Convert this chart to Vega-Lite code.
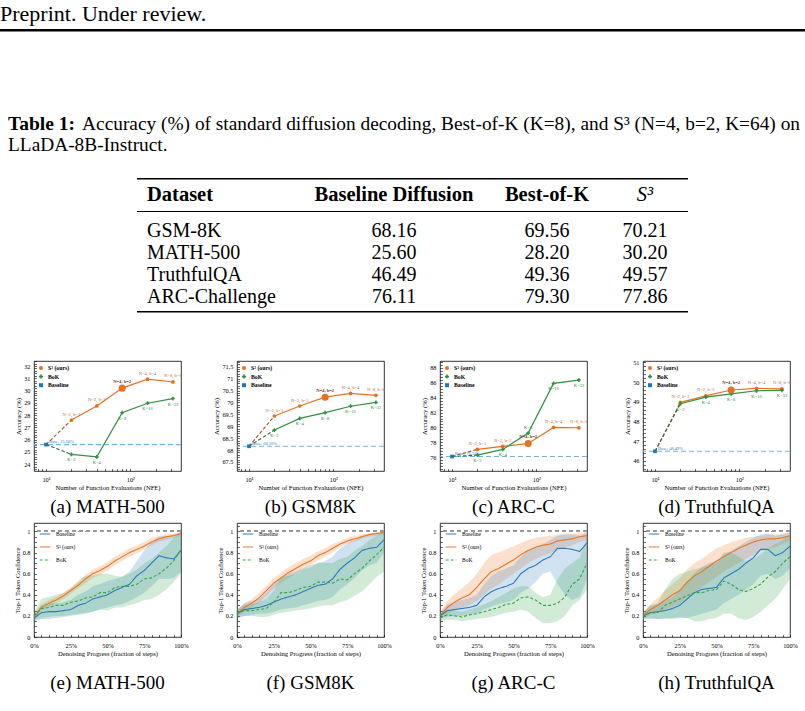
{
"$schema":"https://vega.github.io/schema/vega-lite/v6.json",
"padding":0,
"background":"white",
"spacing":0,"bounds":"full",
"resolve":{"scale":{"color":"independent","shape":"independent","strokeDash":"independent"},"legend":{"color":"independent","shape":"independent","strokeDash":"independent"}},
"datasets":{
"tbl":[{"row":1,"ds":"GSM-8K","base":68.16,"bok":69.56,"s3":70.21},{"row":2,"ds":"MATH-500","base":25.6,"bok":28.2,"s3":30.2},{"row":3,"ds":"TruthfulQA","base":46.49,"bok":49.36,"s3":49.57},{"row":4,"ds":"ARC-Challenge","base":76.11,"bok":79.3,"s3":77.86}],
"acc":[
{"c":"a","series":"Baseline","seg":"base","nfe":10,"acc":25.6,"lab":"Base: 25.60%"},
{"c":"a","series":"S³ (ours)","seg":"dash","nfe":10,"acc":25.6},{"c":"a","series":"S³ (ours)","seg":"dash","nfe":20,"acc":27.6},
{"c":"a","series":"BoK","seg":"dash","nfe":10,"acc":25.6},{"c":"a","series":"BoK","seg":"dash","nfe":20,"acc":24.8},
{"c":"a","series":"S³ (ours)","seg":"solid","nfe":20,"acc":27.6,"lab":"N=2, b=1"},{"c":"a","series":"S³ (ours)","seg":"solid","nfe":40,"acc":28.75,"lab":"N=2, b=2"},{"c":"a","series":"S³ (ours)","seg":"solid","nfe":80,"acc":30.2,"lab":"N=4, b=2"},{"c":"a","series":"S³ (ours)","seg":"solid","nfe":160,"acc":30.93,"lab":"N=4, b=4"},{"c":"a","series":"S³ (ours)","seg":"solid","nfe":320,"acc":30.7,"lab":"N=8, b=8"},
{"c":"a","series":"BoK","seg":"solid","nfe":20,"acc":24.8,"lab":"K=2"},{"c":"a","series":"BoK","seg":"solid","nfe":40,"acc":24.6,"lab":"K=4"},{"c":"a","series":"BoK","seg":"solid","nfe":80,"acc":28.2,"lab":"K=8"},{"c":"a","series":"BoK","seg":"solid","nfe":160,"acc":28.97,"lab":"K=16"},{"c":"a","series":"BoK","seg":"solid","nfe":320,"acc":29.35,"lab":"K=32"},
{"c":"b","series":"Baseline","seg":"base","nfe":10,"acc":68.16,"lab":"Base: 68.16%"},
{"c":"b","series":"S³ (ours)","seg":"dash","nfe":10,"acc":68.16},{"c":"b","series":"S³ (ours)","seg":"dash","nfe":20,"acc":69.43},
{"c":"b","series":"BoK","seg":"dash","nfe":10,"acc":68.16},{"c":"b","series":"BoK","seg":"dash","nfe":20,"acc":68.84},
{"c":"b","series":"S³ (ours)","seg":"solid","nfe":20,"acc":69.43,"lab":"N=2, b=1"},{"c":"b","series":"S³ (ours)","seg":"solid","nfe":40,"acc":69.85,"lab":"N=2, b=2"},{"c":"b","series":"S³ (ours)","seg":"solid","nfe":80,"acc":70.22,"lab":"N=4, b=2"},{"c":"b","series":"S³ (ours)","seg":"solid","nfe":160,"acc":70.38,"lab":"N=4, b=4"},{"c":"b","series":"S³ (ours)","seg":"solid","nfe":320,"acc":70.3,"lab":"N=8, b=8"},
{"c":"b","series":"BoK","seg":"solid","nfe":20,"acc":68.84,"lab":"K=2"},{"c":"b","series":"BoK","seg":"solid","nfe":40,"acc":69.33,"lab":"K=4"},{"c":"b","series":"BoK","seg":"solid","nfe":80,"acc":69.57,"lab":"K=8"},{"c":"b","series":"BoK","seg":"solid","nfe":160,"acc":69.84,"lab":"K=16"},{"c":"b","series":"BoK","seg":"solid","nfe":320,"acc":70.0,"lab":"K=32"},
{"c":"c","series":"Baseline","seg":"base","nfe":10,"acc":76.11,"lab":"Base: 76.11%"},
{"c":"c","series":"S³ (ours)","seg":"dash","nfe":10,"acc":76.11},{"c":"c","series":"S³ (ours)","seg":"dash","nfe":20,"acc":77.06},
{"c":"c","series":"BoK","seg":"dash","nfe":10,"acc":76.11},{"c":"c","series":"BoK","seg":"dash","nfe":20,"acc":76.3},
{"c":"c","series":"S³ (ours)","seg":"solid","nfe":20,"acc":77.06,"lab":"N=2, b=1"},{"c":"c","series":"S³ (ours)","seg":"solid","nfe":40,"acc":77.46,"lab":"N=2, b=2"},{"c":"c","series":"S³ (ours)","seg":"solid","nfe":80,"acc":77.86,"lab":"N=4, b=2"},{"c":"c","series":"S³ (ours)","seg":"solid","nfe":160,"acc":80.0,"lab":"N=4, b=4"},{"c":"c","series":"S³ (ours)","seg":"solid","nfe":320,"acc":79.96,"lab":"N=8, b=8"},
{"c":"c","series":"BoK","seg":"solid","nfe":20,"acc":76.3,"lab":"K=2"},{"c":"c","series":"BoK","seg":"solid","nfe":40,"acc":77.06,"lab":"K=4"},{"c":"c","series":"BoK","seg":"solid","nfe":80,"acc":79.25,"lab":"K=8"},{"c":"c","series":"BoK","seg":"solid","nfe":160,"acc":85.9,"lab":"K=16"},{"c":"c","series":"BoK","seg":"solid","nfe":320,"acc":86.35,"lab":"K=32"},
{"c":"d","series":"Baseline","seg":"base","nfe":10,"acc":46.49,"lab":"Base: 46.49%"},
{"c":"d","series":"S³ (ours)","seg":"dash","nfe":10,"acc":46.49},{"c":"d","series":"S³ (ours)","seg":"dash","nfe":20,"acc":48.97},
{"c":"d","series":"BoK","seg":"dash","nfe":10,"acc":46.49},{"c":"d","series":"BoK","seg":"dash","nfe":20,"acc":48.9},
{"c":"d","series":"S³ (ours)","seg":"solid","nfe":20,"acc":48.97,"lab":"N=2, b=1"},{"c":"d","series":"S³ (ours)","seg":"solid","nfe":40,"acc":49.3,"lab":"N=2, b=2"},{"c":"d","series":"S³ (ours)","seg":"solid","nfe":80,"acc":49.6,"lab":"N=4, b=2"},{"c":"d","series":"S³ (ours)","seg":"solid","nfe":160,"acc":49.68,"lab":"N=4, b=4"},{"c":"d","series":"S³ (ours)","seg":"solid","nfe":320,"acc":49.66,"lab":"N=8, b=8"},
{"c":"d","series":"BoK","seg":"solid","nfe":20,"acc":48.9,"lab":"K=2"},{"c":"d","series":"BoK","seg":"solid","nfe":40,"acc":49.24,"lab":"K=4"},{"c":"d","series":"BoK","seg":"solid","nfe":80,"acc":49.4,"lab":"K=8"},{"c":"d","series":"BoK","seg":"solid","nfe":160,"acc":49.56,"lab":"K=16"},{"c":"d","series":"BoK","seg":"solid","nfe":320,"acc":49.58,"lab":"K=32"}
],
"conf":[
{"c":"e","s":"S³ (ours)","p":0,"m":0.18,"lo":0.15,"hi":0.21},{"c":"e","s":"S³ (ours)","p":0.05,"m":0.28,"lo":0.25,"hi":0.31},{"c":"e","s":"S³ (ours)","p":0.1,"m":0.32,"lo":0.29,"hi":0.35},{"c":"e","s":"S³ (ours)","p":0.15,"m":0.35,"lo":0.32,"hi":0.38},{"c":"e","s":"S³ (ours)","p":0.2,"m":0.39,"lo":0.36,"hi":0.42},{"c":"e","s":"S³ (ours)","p":0.25,"m":0.44,"lo":0.41,"hi":0.47},{"c":"e","s":"S³ (ours)","p":0.3,"m":0.49,"lo":0.46,"hi":0.53},{"c":"e","s":"S³ (ours)","p":0.35,"m":0.55,"lo":0.51,"hi":0.59},{"c":"e","s":"S³ (ours)","p":0.4,"m":0.6,"lo":0.56,"hi":0.64},{"c":"e","s":"S³ (ours)","p":0.45,"m":0.63,"lo":0.59,"hi":0.67},{"c":"e","s":"S³ (ours)","p":0.5,"m":0.67,"lo":0.63,"hi":0.71},{"c":"e","s":"S³ (ours)","p":0.55,"m":0.72,"lo":0.68,"hi":0.76},{"c":"e","s":"S³ (ours)","p":0.6,"m":0.76,"lo":0.72,"hi":0.8},{"c":"e","s":"S³ (ours)","p":0.65,"m":0.8,"lo":0.76,"hi":0.84},{"c":"e","s":"S³ (ours)","p":0.7,"m":0.83,"lo":0.79,"hi":0.87},{"c":"e","s":"S³ (ours)","p":0.75,"m":0.86,"lo":0.83,"hi":0.9},{"c":"e","s":"S³ (ours)","p":0.8,"m":0.9,"lo":0.87,"hi":0.94},{"c":"e","s":"S³ (ours)","p":0.85,"m":0.93,"lo":0.9,"hi":0.96},{"c":"e","s":"S³ (ours)","p":0.9,"m":0.95,"lo":0.92,"hi":0.97},{"c":"e","s":"S³ (ours)","p":0.95,"m":0.96,"lo":0.94,"hi":0.98},{"c":"e","s":"S³ (ours)","p":1,"m":0.98,"lo":0.96,"hi":0.99},
{"c":"e","s":"Baseline","p":0,"m":0.18,"lo":0.15,"hi":0.22},{"c":"e","s":"Baseline","p":0.05,"m":0.23,"lo":0.17,"hi":0.3},{"c":"e","s":"Baseline","p":0.1,"m":0.24,"lo":0.17,"hi":0.32},{"c":"e","s":"Baseline","p":0.15,"m":0.24,"lo":0.18,"hi":0.32},{"c":"e","s":"Baseline","p":0.2,"m":0.25,"lo":0.19,"hi":0.33},{"c":"e","s":"Baseline","p":0.25,"m":0.26,"lo":0.2,"hi":0.35},{"c":"e","s":"Baseline","p":0.3,"m":0.3,"lo":0.21,"hi":0.4},{"c":"e","s":"Baseline","p":0.35,"m":0.32,"lo":0.22,"hi":0.43},{"c":"e","s":"Baseline","p":0.4,"m":0.36,"lo":0.24,"hi":0.48},{"c":"e","s":"Baseline","p":0.45,"m":0.38,"lo":0.26,"hi":0.5},{"c":"e","s":"Baseline","p":0.5,"m":0.4,"lo":0.28,"hi":0.53},{"c":"e","s":"Baseline","p":0.55,"m":0.44,"lo":0.3,"hi":0.55},{"c":"e","s":"Baseline","p":0.6,"m":0.47,"lo":0.31,"hi":0.57},{"c":"e","s":"Baseline","p":0.65,"m":0.5,"lo":0.34,"hi":0.62},{"c":"e","s":"Baseline","p":0.7,"m":0.58,"lo":0.38,"hi":0.72},{"c":"e","s":"Baseline","p":0.75,"m":0.63,"lo":0.42,"hi":0.82},{"c":"e","s":"Baseline","p":0.8,"m":0.7,"lo":0.48,"hi":0.9},{"c":"e","s":"Baseline","p":0.85,"m":0.77,"lo":0.55,"hi":0.95},{"c":"e","s":"Baseline","p":0.9,"m":0.75,"lo":0.55,"hi":0.96},{"c":"e","s":"Baseline","p":0.95,"m":0.74,"lo":0.56,"hi":0.96},{"c":"e","s":"Baseline","p":1,"m":0.82,"lo":0.62,"hi":1.0},
{"c":"e","s":"BoK","p":0,"m":0.2,"lo":0.16,"hi":0.24},{"c":"e","s":"BoK","p":0.05,"m":0.27,"lo":0.18,"hi":0.36},{"c":"e","s":"BoK","p":0.1,"m":0.28,"lo":0.19,"hi":0.38},{"c":"e","s":"BoK","p":0.15,"m":0.3,"lo":0.2,"hi":0.4},{"c":"e","s":"BoK","p":0.2,"m":0.3,"lo":0.2,"hi":0.42},{"c":"e","s":"BoK","p":0.25,"m":0.33,"lo":0.21,"hi":0.46},{"c":"e","s":"BoK","p":0.3,"m":0.34,"lo":0.22,"hi":0.52},{"c":"e","s":"BoK","p":0.35,"m":0.37,"lo":0.23,"hi":0.58},{"c":"e","s":"BoK","p":0.4,"m":0.38,"lo":0.24,"hi":0.58},{"c":"e","s":"BoK","p":0.45,"m":0.42,"lo":0.26,"hi":0.6},{"c":"e","s":"BoK","p":0.5,"m":0.42,"lo":0.25,"hi":0.6},{"c":"e","s":"BoK","p":0.55,"m":0.47,"lo":0.28,"hi":0.58},{"c":"e","s":"BoK","p":0.6,"m":0.48,"lo":0.28,"hi":0.57},{"c":"e","s":"BoK","p":0.65,"m":0.48,"lo":0.3,"hi":0.6},{"c":"e","s":"BoK","p":0.7,"m":0.5,"lo":0.32,"hi":0.64},{"c":"e","s":"BoK","p":0.75,"m":0.55,"lo":0.35,"hi":0.7},{"c":"e","s":"BoK","p":0.8,"m":0.56,"lo":0.36,"hi":0.74},{"c":"e","s":"BoK","p":0.85,"m":0.6,"lo":0.4,"hi":0.8},{"c":"e","s":"BoK","p":0.9,"m":0.65,"lo":0.45,"hi":0.86},{"c":"e","s":"BoK","p":0.95,"m":0.72,"lo":0.52,"hi":0.94},{"c":"e","s":"BoK","p":1,"m":0.83,"lo":0.6,"hi":1.0},
{"c":"f","s":"S³ (ours)","p":0,"m":0.22,"lo":0.19,"hi":0.25},{"c":"f","s":"S³ (ours)","p":0.05,"m":0.28,"lo":0.24,"hi":0.32},{"c":"f","s":"S³ (ours)","p":0.1,"m":0.32,"lo":0.28,"hi":0.36},{"c":"f","s":"S³ (ours)","p":0.15,"m":0.37,"lo":0.32,"hi":0.42},{"c":"f","s":"S³ (ours)","p":0.2,"m":0.44,"lo":0.39,"hi":0.49},{"c":"f","s":"S³ (ours)","p":0.25,"m":0.51,"lo":0.46,"hi":0.56},{"c":"f","s":"S³ (ours)","p":0.3,"m":0.56,"lo":0.51,"hi":0.61},{"c":"f","s":"S³ (ours)","p":0.35,"m":0.61,"lo":0.56,"hi":0.66},{"c":"f","s":"S³ (ours)","p":0.4,"m":0.65,"lo":0.6,"hi":0.7},{"c":"f","s":"S³ (ours)","p":0.45,"m":0.69,"lo":0.64,"hi":0.74},{"c":"f","s":"S³ (ours)","p":0.5,"m":0.72,"lo":0.68,"hi":0.77},{"c":"f","s":"S³ (ours)","p":0.55,"m":0.77,"lo":0.73,"hi":0.81},{"c":"f","s":"S³ (ours)","p":0.6,"m":0.8,"lo":0.76,"hi":0.84},{"c":"f","s":"S³ (ours)","p":0.65,"m":0.84,"lo":0.8,"hi":0.88},{"c":"f","s":"S³ (ours)","p":0.7,"m":0.88,"lo":0.85,"hi":0.91},{"c":"f","s":"S³ (ours)","p":0.75,"m":0.91,"lo":0.88,"hi":0.94},{"c":"f","s":"S³ (ours)","p":0.8,"m":0.93,"lo":0.9,"hi":0.96},{"c":"f","s":"S³ (ours)","p":0.85,"m":0.95,"lo":0.93,"hi":0.97},{"c":"f","s":"S³ (ours)","p":0.9,"m":0.97,"lo":0.95,"hi":0.98},{"c":"f","s":"S³ (ours)","p":0.95,"m":0.98,"lo":0.96,"hi":0.99},{"c":"f","s":"S³ (ours)","p":1,"m":0.99,"lo":0.97,"hi":1.0},
{"c":"f","s":"Baseline","p":0,"m":0.22,"lo":0.18,"hi":0.26},{"c":"f","s":"Baseline","p":0.05,"m":0.26,"lo":0.2,"hi":0.32},{"c":"f","s":"Baseline","p":0.1,"m":0.27,"lo":0.21,"hi":0.34},{"c":"f","s":"Baseline","p":0.15,"m":0.28,"lo":0.22,"hi":0.36},{"c":"f","s":"Baseline","p":0.2,"m":0.3,"lo":0.22,"hi":0.42},{"c":"f","s":"Baseline","p":0.25,"m":0.33,"lo":0.24,"hi":0.5},{"c":"f","s":"Baseline","p":0.3,"m":0.36,"lo":0.26,"hi":0.56},{"c":"f","s":"Baseline","p":0.35,"m":0.38,"lo":0.27,"hi":0.6},{"c":"f","s":"Baseline","p":0.4,"m":0.4,"lo":0.28,"hi":0.62},{"c":"f","s":"Baseline","p":0.45,"m":0.43,"lo":0.3,"hi":0.65},{"c":"f","s":"Baseline","p":0.5,"m":0.46,"lo":0.32,"hi":0.68},{"c":"f","s":"Baseline","p":0.55,"m":0.49,"lo":0.34,"hi":0.7},{"c":"f","s":"Baseline","p":0.6,"m":0.5,"lo":0.35,"hi":0.72},{"c":"f","s":"Baseline","p":0.65,"m":0.55,"lo":0.38,"hi":0.76},{"c":"f","s":"Baseline","p":0.7,"m":0.64,"lo":0.45,"hi":0.84},{"c":"f","s":"Baseline","p":0.75,"m":0.7,"lo":0.5,"hi":0.88},{"c":"f","s":"Baseline","p":0.8,"m":0.75,"lo":0.56,"hi":0.92},{"c":"f","s":"Baseline","p":0.85,"m":0.82,"lo":0.63,"hi":0.96},{"c":"f","s":"Baseline","p":0.9,"m":0.84,"lo":0.68,"hi":0.98},{"c":"f","s":"Baseline","p":0.95,"m":0.85,"lo":0.7,"hi":0.99},{"c":"f","s":"Baseline","p":1,"m":0.92,"lo":0.8,"hi":1.0},
{"c":"f","s":"BoK","p":0,"m":0.22,"lo":0.18,"hi":0.26},{"c":"f","s":"BoK","p":0.05,"m":0.25,"lo":0.2,"hi":0.3},{"c":"f","s":"BoK","p":0.1,"m":0.25,"lo":0.2,"hi":0.31},{"c":"f","s":"BoK","p":0.15,"m":0.26,"lo":0.19,"hi":0.33},{"c":"f","s":"BoK","p":0.2,"m":0.27,"lo":0.19,"hi":0.36},{"c":"f","s":"BoK","p":0.25,"m":0.33,"lo":0.21,"hi":0.44},{"c":"f","s":"BoK","p":0.3,"m":0.42,"lo":0.23,"hi":0.56},{"c":"f","s":"BoK","p":0.35,"m":0.42,"lo":0.24,"hi":0.58},{"c":"f","s":"BoK","p":0.4,"m":0.44,"lo":0.25,"hi":0.6},{"c":"f","s":"BoK","p":0.45,"m":0.47,"lo":0.26,"hi":0.64},{"c":"f","s":"BoK","p":0.5,"m":0.48,"lo":0.27,"hi":0.66},{"c":"f","s":"BoK","p":0.55,"m":0.52,"lo":0.29,"hi":0.7},{"c":"f","s":"BoK","p":0.6,"m":0.52,"lo":0.3,"hi":0.7},{"c":"f","s":"BoK","p":0.65,"m":0.51,"lo":0.3,"hi":0.7},{"c":"f","s":"BoK","p":0.7,"m":0.55,"lo":0.33,"hi":0.74},{"c":"f","s":"BoK","p":0.75,"m":0.54,"lo":0.35,"hi":0.76},{"c":"f","s":"BoK","p":0.8,"m":0.6,"lo":0.39,"hi":0.82},{"c":"f","s":"BoK","p":0.85,"m":0.65,"lo":0.43,"hi":0.86},{"c":"f","s":"BoK","p":0.9,"m":0.72,"lo":0.5,"hi":0.92},{"c":"f","s":"BoK","p":0.95,"m":0.78,"lo":0.57,"hi":0.96},{"c":"f","s":"BoK","p":1,"m":0.85,"lo":0.62,"hi":1.0},
{"c":"g","s":"S³ (ours)","p":0,"m":0.2,"lo":0.17,"hi":0.23},{"c":"g","s":"S³ (ours)","p":0.05,"m":0.28,"lo":0.22,"hi":0.34},{"c":"g","s":"S³ (ours)","p":0.1,"m":0.33,"lo":0.25,"hi":0.41},{"c":"g","s":"S³ (ours)","p":0.15,"m":0.37,"lo":0.28,"hi":0.46},{"c":"g","s":"S³ (ours)","p":0.2,"m":0.4,"lo":0.3,"hi":0.52},{"c":"g","s":"S³ (ours)","p":0.25,"m":0.47,"lo":0.34,"hi":0.6},{"c":"g","s":"S³ (ours)","p":0.3,"m":0.55,"lo":0.4,"hi":0.7},{"c":"g","s":"S³ (ours)","p":0.35,"m":0.62,"lo":0.46,"hi":0.78},{"c":"g","s":"S³ (ours)","p":0.4,"m":0.65,"lo":0.5,"hi":0.8},{"c":"g","s":"S³ (ours)","p":0.45,"m":0.69,"lo":0.55,"hi":0.83},{"c":"g","s":"S³ (ours)","p":0.5,"m":0.73,"lo":0.6,"hi":0.86},{"c":"g","s":"S³ (ours)","p":0.55,"m":0.78,"lo":0.65,"hi":0.89},{"c":"g","s":"S³ (ours)","p":0.6,"m":0.82,"lo":0.7,"hi":0.92},{"c":"g","s":"S³ (ours)","p":0.65,"m":0.85,"lo":0.74,"hi":0.94},{"c":"g","s":"S³ (ours)","p":0.7,"m":0.87,"lo":0.77,"hi":0.95},{"c":"g","s":"S³ (ours)","p":0.75,"m":0.88,"lo":0.79,"hi":0.96},{"c":"g","s":"S³ (ours)","p":0.8,"m":0.91,"lo":0.83,"hi":0.97},{"c":"g","s":"S³ (ours)","p":0.85,"m":0.92,"lo":0.85,"hi":0.98},{"c":"g","s":"S³ (ours)","p":0.9,"m":0.93,"lo":0.87,"hi":0.98},{"c":"g","s":"S³ (ours)","p":0.95,"m":0.95,"lo":0.9,"hi":0.99},{"c":"g","s":"S³ (ours)","p":1,"m":0.96,"lo":0.92,"hi":0.99},
{"c":"g","s":"Baseline","p":0,"m":0.2,"lo":0.17,"hi":0.23},{"c":"g","s":"Baseline","p":0.05,"m":0.25,"lo":0.19,"hi":0.31},{"c":"g","s":"Baseline","p":0.1,"m":0.26,"lo":0.2,"hi":0.33},{"c":"g","s":"Baseline","p":0.15,"m":0.27,"lo":0.2,"hi":0.35},{"c":"g","s":"Baseline","p":0.2,"m":0.28,"lo":0.21,"hi":0.37},{"c":"g","s":"Baseline","p":0.25,"m":0.3,"lo":0.22,"hi":0.4},{"c":"g","s":"Baseline","p":0.3,"m":0.38,"lo":0.26,"hi":0.5},{"c":"g","s":"Baseline","p":0.35,"m":0.43,"lo":0.29,"hi":0.58},{"c":"g","s":"Baseline","p":0.4,"m":0.46,"lo":0.31,"hi":0.62},{"c":"g","s":"Baseline","p":0.45,"m":0.48,"lo":0.33,"hi":0.65},{"c":"g","s":"Baseline","p":0.5,"m":0.51,"lo":0.35,"hi":0.68},{"c":"g","s":"Baseline","p":0.55,"m":0.6,"lo":0.42,"hi":0.76},{"c":"g","s":"Baseline","p":0.6,"m":0.65,"lo":0.46,"hi":0.82},{"c":"g","s":"Baseline","p":0.65,"m":0.68,"lo":0.52,"hi":0.85},{"c":"g","s":"Baseline","p":0.7,"m":0.73,"lo":0.6,"hi":0.88},{"c":"g","s":"Baseline","p":0.75,"m":0.76,"lo":0.62,"hi":0.92},{"c":"g","s":"Baseline","p":0.8,"m":0.84,"lo":0.5,"hi":0.96},{"c":"g","s":"Baseline","p":0.85,"m":0.84,"lo":0.4,"hi":0.97},{"c":"g","s":"Baseline","p":0.9,"m":0.83,"lo":0.35,"hi":0.97},{"c":"g","s":"Baseline","p":0.95,"m":0.81,"lo":0.38,"hi":0.96},{"c":"g","s":"Baseline","p":1,"m":0.89,"lo":0.55,"hi":0.99},
{"c":"g","s":"BoK","p":0,"m":0.18,"lo":0.15,"hi":0.21},{"c":"g","s":"BoK","p":0.05,"m":0.21,"lo":0.16,"hi":0.26},{"c":"g","s":"BoK","p":0.1,"m":0.2,"lo":0.16,"hi":0.25},{"c":"g","s":"BoK","p":0.15,"m":0.19,"lo":0.15,"hi":0.24},{"c":"g","s":"BoK","p":0.2,"m":0.21,"lo":0.16,"hi":0.26},{"c":"g","s":"BoK","p":0.25,"m":0.22,"lo":0.17,"hi":0.28},{"c":"g","s":"BoK","p":0.3,"m":0.24,"lo":0.18,"hi":0.31},{"c":"g","s":"BoK","p":0.35,"m":0.26,"lo":0.19,"hi":0.34},{"c":"g","s":"BoK","p":0.4,"m":0.28,"lo":0.21,"hi":0.38},{"c":"g","s":"BoK","p":0.45,"m":0.31,"lo":0.23,"hi":0.42},{"c":"g","s":"BoK","p":0.5,"m":0.32,"lo":0.24,"hi":0.46},{"c":"g","s":"BoK","p":0.55,"m":0.37,"lo":0.26,"hi":0.48},{"c":"g","s":"BoK","p":0.6,"m":0.38,"lo":0.24,"hi":0.48},{"c":"g","s":"BoK","p":0.65,"m":0.35,"lo":0.18,"hi":0.42},{"c":"g","s":"BoK","p":0.7,"m":0.3,"lo":0.13,"hi":0.38},{"c":"g","s":"BoK","p":0.75,"m":0.3,"lo":0.13,"hi":0.4},{"c":"g","s":"BoK","p":0.8,"m":0.32,"lo":0.15,"hi":0.55},{"c":"g","s":"BoK","p":0.85,"m":0.38,"lo":0.2,"hi":0.65},{"c":"g","s":"BoK","p":0.9,"m":0.5,"lo":0.3,"hi":0.7},{"c":"g","s":"BoK","p":0.95,"m":0.55,"lo":0.35,"hi":0.75},{"c":"g","s":"BoK","p":1,"m":0.7,"lo":0.45,"hi":0.95},
{"c":"h","s":"S³ (ours)","p":0,"m":0.2,"lo":0.17,"hi":0.23},{"c":"h","s":"S³ (ours)","p":0.05,"m":0.26,"lo":0.21,"hi":0.31},{"c":"h","s":"S³ (ours)","p":0.1,"m":0.3,"lo":0.23,"hi":0.37},{"c":"h","s":"S³ (ours)","p":0.15,"m":0.35,"lo":0.26,"hi":0.44},{"c":"h","s":"S³ (ours)","p":0.2,"m":0.4,"lo":0.29,"hi":0.5},{"c":"h","s":"S³ (ours)","p":0.25,"m":0.44,"lo":0.32,"hi":0.56},{"c":"h","s":"S³ (ours)","p":0.3,"m":0.52,"lo":0.38,"hi":0.64},{"c":"h","s":"S³ (ours)","p":0.35,"m":0.58,"lo":0.43,"hi":0.7},{"c":"h","s":"S³ (ours)","p":0.4,"m":0.62,"lo":0.47,"hi":0.74},{"c":"h","s":"S³ (ours)","p":0.45,"m":0.67,"lo":0.52,"hi":0.79},{"c":"h","s":"S³ (ours)","p":0.5,"m":0.72,"lo":0.57,"hi":0.84},{"c":"h","s":"S³ (ours)","p":0.55,"m":0.76,"lo":0.62,"hi":0.87},{"c":"h","s":"S³ (ours)","p":0.6,"m":0.8,"lo":0.66,"hi":0.9},{"c":"h","s":"S³ (ours)","p":0.65,"m":0.84,"lo":0.7,"hi":0.92},{"c":"h","s":"S³ (ours)","p":0.7,"m":0.87,"lo":0.74,"hi":0.94},{"c":"h","s":"S³ (ours)","p":0.75,"m":0.9,"lo":0.78,"hi":0.95},{"c":"h","s":"S³ (ours)","p":0.8,"m":0.92,"lo":0.82,"hi":0.96},{"c":"h","s":"S³ (ours)","p":0.85,"m":0.93,"lo":0.84,"hi":0.97},{"c":"h","s":"S³ (ours)","p":0.9,"m":0.93,"lo":0.85,"hi":0.97},{"c":"h","s":"S³ (ours)","p":0.95,"m":0.94,"lo":0.88,"hi":0.98},{"c":"h","s":"S³ (ours)","p":1,"m":0.96,"lo":0.92,"hi":0.99},
{"c":"h","s":"Baseline","p":0,"m":0.2,"lo":0.17,"hi":0.23},{"c":"h","s":"Baseline","p":0.05,"m":0.23,"lo":0.17,"hi":0.29},{"c":"h","s":"Baseline","p":0.1,"m":0.24,"lo":0.17,"hi":0.31},{"c":"h","s":"Baseline","p":0.15,"m":0.25,"lo":0.17,"hi":0.34},{"c":"h","s":"Baseline","p":0.2,"m":0.27,"lo":0.17,"hi":0.38},{"c":"h","s":"Baseline","p":0.25,"m":0.3,"lo":0.18,"hi":0.44},{"c":"h","s":"Baseline","p":0.3,"m":0.36,"lo":0.18,"hi":0.52},{"c":"h","s":"Baseline","p":0.35,"m":0.42,"lo":0.2,"hi":0.6},{"c":"h","s":"Baseline","p":0.4,"m":0.45,"lo":0.22,"hi":0.66},{"c":"h","s":"Baseline","p":0.45,"m":0.46,"lo":0.24,"hi":0.7},{"c":"h","s":"Baseline","p":0.5,"m":0.47,"lo":0.26,"hi":0.72},{"c":"h","s":"Baseline","p":0.55,"m":0.56,"lo":0.32,"hi":0.78},{"c":"h","s":"Baseline","p":0.6,"m":0.6,"lo":0.36,"hi":0.82},{"c":"h","s":"Baseline","p":0.65,"m":0.64,"lo":0.4,"hi":0.86},{"c":"h","s":"Baseline","p":0.7,"m":0.7,"lo":0.45,"hi":0.9},{"c":"h","s":"Baseline","p":0.75,"m":0.75,"lo":0.5,"hi":0.94},{"c":"h","s":"Baseline","p":0.8,"m":0.83,"lo":0.58,"hi":0.97},{"c":"h","s":"Baseline","p":0.85,"m":0.83,"lo":0.6,"hi":0.98},{"c":"h","s":"Baseline","p":0.9,"m":0.77,"lo":0.55,"hi":0.96},{"c":"h","s":"Baseline","p":0.95,"m":0.8,"lo":0.58,"hi":0.97},{"c":"h","s":"Baseline","p":1,"m":0.86,"lo":0.65,"hi":0.99},
{"c":"h","s":"BoK","p":0,"m":0.2,"lo":0.17,"hi":0.23},{"c":"h","s":"BoK","p":0.05,"m":0.23,"lo":0.18,"hi":0.3},{"c":"h","s":"BoK","p":0.1,"m":0.23,"lo":0.17,"hi":0.32},{"c":"h","s":"BoK","p":0.15,"m":0.3,"lo":0.18,"hi":0.45},{"c":"h","s":"BoK","p":0.2,"m":0.33,"lo":0.18,"hi":0.55},{"c":"h","s":"BoK","p":0.25,"m":0.36,"lo":0.19,"hi":0.6},{"c":"h","s":"BoK","p":0.3,"m":0.39,"lo":0.18,"hi":0.62},{"c":"h","s":"BoK","p":0.35,"m":0.42,"lo":0.15,"hi":0.64},{"c":"h","s":"BoK","p":0.4,"m":0.42,"lo":0.15,"hi":0.66},{"c":"h","s":"BoK","p":0.45,"m":0.44,"lo":0.17,"hi":0.68},{"c":"h","s":"BoK","p":0.5,"m":0.45,"lo":0.18,"hi":0.7},{"c":"h","s":"BoK","p":0.55,"m":0.53,"lo":0.22,"hi":0.8},{"c":"h","s":"BoK","p":0.6,"m":0.5,"lo":0.22,"hi":0.8},{"c":"h","s":"BoK","p":0.65,"m":0.45,"lo":0.18,"hi":0.76},{"c":"h","s":"BoK","p":0.7,"m":0.43,"lo":0.16,"hi":0.72},{"c":"h","s":"BoK","p":0.75,"m":0.46,"lo":0.19,"hi":0.74},{"c":"h","s":"BoK","p":0.8,"m":0.5,"lo":0.24,"hi":0.78},{"c":"h","s":"BoK","p":0.85,"m":0.57,"lo":0.3,"hi":0.84},{"c":"h","s":"BoK","p":0.9,"m":0.62,"lo":0.36,"hi":0.88},{"c":"h","s":"BoK","p":0.95,"m":0.7,"lo":0.45,"hi":0.92},{"c":"h","s":"BoK","p":1,"m":0.76,"lo":0.55,"hi":0.97}
]
},
"vconcat":[
{"width":805,"height":28.5,"data":{"values":[{"t":"Preprint. Under review."}]},"mark":{"type":"text","align":"left","baseline":"middle","fontSize":22},"encoding":{"text":{"field":"t"},"x":{"datum":0,"type":"quantitative","scale":{"domain":[0,1]},"axis":null}}},
{"width":805,"height":2.5,"view":{"fill":"#000","stroke":null},"mark":"point","data":{"values":[]}},
{"width":1,"height":81,"mark":"point","data":{"values":[]}},
{"hconcat":[
 {"width":8,"height":42,"mark":"point","data":{"values":[]}},
 {"width":792,"height":42,"data":{"values":[{"line":1,"part":"lab","t":"Table 1:"},{"line":1,"part":"rest","t":"Accuracy (%) of standard diffusion decoding, Best-of-K (K=8), and S³ (N=4, b=2, K=64) on"},{"line":2,"part":"cont","t":"LLaDA-8B-Instruct."}]},
 "encoding":{"y":{"field":"line","type":"ordinal","scale":{"type":"point","padding":0.5},"axis":null},"text":{"field":"t"}},
 "layer":[
  {"transform":[{"filter":"datum.part=='lab'"}],"mark":{"type":"text","align":"left","baseline":"middle","fontWeight":"bold","fontSize":19.5},"encoding":{"x":{"datum":0,"type":"quantitative","scale":{"domain":[0,1]},"axis":null}}},
  {"transform":[{"filter":"datum.part=='rest'"}],"mark":{"type":"text","align":"right","baseline":"middle","fontSize":19.35},"encoding":{"x":{"datum":1,"type":"quantitative"}}},
  {"transform":[{"filter":"datum.part=='cont'"}],"mark":{"type":"text","align":"left","baseline":"middle","fontSize":19.35},"encoding":{"x":{"datum":0,"type":"quantitative"}}}
 ]}
],"spacing":0,"bounds":"flush"},
{"width":1,"height":22.5,"mark":"point","data":{"values":[]}},
{"hconcat":[
 {"width":137,"height":1.6,"mark":"point","data":{"values":[]}},
 {"width":551,"height":1.6,"view":{"fill":"#000","stroke":null},"mark":"point","data":{"values":[]}}
],"spacing":0,"bounds":"flush"},
{"hconcat":[
 {"width":137,"height":30.5,"mark":"point","data":{"values":[]}},
 {"width":20,"height":30.5,"data":{"values":[{"t":"Dataset"}]},"mark":{"type":"text","align":"left","baseline":"middle","fontWeight":"bold","fontSize":20.5},"encoding":{"text":{"field":"t"}}},
 {"width":217,"height":30.5,"mark":"point","data":{"values":[]}},
 {"width":40,"height":30.5,"data":{"values":[{"t":"Baseline Diffusion"}]},"mark":{"type":"text","align":"center","baseline":"middle","fontWeight":"bold","fontSize":20.5},"encoding":{"text":{"field":"t"}}},
 {"width":113,"height":30.5,"mark":"point","data":{"values":[]}},
 {"width":40,"height":30.5,"data":{"values":[{"t":"Best-of-K"}]},"mark":{"type":"text","align":"center","baseline":"middle","fontWeight":"bold","fontSize":20.5},"encoding":{"text":{"field":"t"}}},
 {"width":58,"height":30.5,"mark":"point","data":{"values":[]}},
 {"width":40,"height":30.5,"data":{"values":[{"t":"S³"}]},"mark":{"type":"text","align":"center","baseline":"middle","fontStyle":"italic","fontSize":20.5},"encoding":{"text":{"field":"t"}}}
],"spacing":0,"bounds":"flush"},
{"hconcat":[
 {"width":137,"height":1,"mark":"point","data":{"values":[]}},
 {"width":551,"height":1,"view":{"fill":"#000","stroke":null},"mark":"point","data":{"values":[]}}
],"spacing":0,"bounds":"flush"},
{"width":1,"height":6,"mark":"point","data":{"values":[]}},
{"hconcat":[
 {"width":137,"height":92.8,"mark":"point","data":{"values":[]}},
 {"width":20,"height":92.8,"data":{"name":"tbl"},"mark":{"type":"text","align":"left","baseline":"middle","fontSize":20},"encoding":{"y":{"field":"row","type":"ordinal","scale":{"type":"point","padding":0.61},"axis":null},"text":{"field":"ds"}}},
 {"width":217,"height":92.8,"mark":"point","data":{"values":[]}},
 {"width":40,"height":92.8,"data":{"name":"tbl"},"mark":{"type":"text","align":"center","baseline":"middle","fontSize":20},"encoding":{"y":{"field":"row","type":"ordinal","scale":{"type":"point","padding":0.61},"axis":null},"text":{"field":"base","format":".2f"}}},
 {"width":113,"height":92.8,"mark":"point","data":{"values":[]}},
 {"width":40,"height":92.8,"data":{"name":"tbl"},"mark":{"type":"text","align":"center","baseline":"middle","fontSize":20},"encoding":{"y":{"field":"row","type":"ordinal","scale":{"type":"point","padding":0.61},"axis":null},"text":{"field":"bok","format":".2f"}}},
 {"width":58,"height":92.8,"mark":"point","data":{"values":[]}},
 {"width":40,"height":92.8,"data":{"name":"tbl"},"mark":{"type":"text","align":"center","baseline":"middle","fontSize":20},"encoding":{"y":{"field":"row","type":"ordinal","scale":{"type":"point","padding":0.61},"axis":null},"text":{"field":"s3","format":".2f"}}}
],"spacing":0,"bounds":"flush"},
{"hconcat":[
 {"width":137,"height":1.6,"mark":"point","data":{"values":[]}},
 {"width":551,"height":1.6,"view":{"fill":"#000","stroke":null},"mark":"point","data":{"values":[]}}
],"spacing":0,"bounds":"flush"},
{"width":1,"height":43.1,"mark":"point","data":{"values":[]}},
{"hconcat":[
{"width":34,"height":110,"mark":"point","data":{"values":[]}},
{"width":147,"height":110,"view":{"stroke":"#000","strokeWidth":0.8},"title":{"text":"(a) MATH-500","orient":"bottom","offset":7},"data":{"name":"acc"},"transform":[{"filter":"datum.c=='a'"}],
 "layer":[
  {"transform":[{"filter":"datum.seg=='base'"}],"mark":{"type":"rule","color":"#74b3e0","strokeDash":[5,3],"strokeWidth":1.1},"encoding":{"y":{"field":"acc","type":"quantitative"}}},
  {"transform":[{"filter":"datum.seg=='dash'"}],"mark":{"type":"line","strokeDash":[3.5,2],"strokeWidth":1.1},"encoding":{"x":{"field":"nfe","type":"quantitative"},"y":{"field":"acc","type":"quantitative"},"detail":{"field":"series"},"color":{"condition":{"test":"datum.series=='BoK'","value":"#2a6b34"},"value":"#a3522a"}}},
  {"transform":[{"filter":"datum.seg=='solid'"}],"mark":{"type":"line","strokeWidth":1.2},"encoding":{"x":{"field":"nfe","type":"quantitative","scale":{"type":"log","domain":[7.2,399],"nice":false},"axis":{"title":"Number of Function Evaluations (NFE)","tickCount":200,"labelOverlap":false,"values":[8,9,10,20,30,40,50,60,70,80,90,100,200,300],"labelExpr":"datum.value == 10 ? '10¹' : datum.value == 100 ? '10²' : ''"}},"y":{"field":"acc","type":"quantitative","scale":{"domain":[23.45,32.41],"nice":false,"zero":false},"axis":{"title":"Accuracy (%)","tickCount":200,"labelOverlap":false,"format":"~g","values":[23.6,23.8,24,24.2,24.4,24.6,24.8,25,25.2,25.4,25.6,25.8,26,26.2,26.4,26.6,26.8,27,27.2,27.4,27.6,27.8,28,28.2,28.4,28.6,28.8,29,29.2,29.4,29.6,29.8,30,30.2,30.4,30.6,30.8,31,31.2,31.4,31.6,31.8,32,32.2,32.4],"labelExpr":"datum.value % 1 == 0 ? datum.label : ''"}},"detail":{"field":"series"},"color":{"condition":{"test":"datum.series=='BoK'","value":"#2e9142"},"value":"#e6711f"}}},
  {"transform":[{"filter":"datum.seg!='dash'"}],"mark":{"type":"point","filled":true,"opacity":1,"size":14},"encoding":{"x":{"field":"nfe","type":"quantitative"},"y":{"field":"acc","type":"quantitative"},"color":{"field":"series","type":"nominal","scale":{"domain":["S³ (ours)","BoK","Baseline"],"range":["#e6711f","#2e9142","#1f77b4"]},"legend":{"title":null,"orient":"top-left","offset":3,"padding":1,"labelFontSize":5.8,"labelFontWeight":"bold","symbolSize":16,"rowPadding":2.6,"labelOffset":4}},"shape":{"field":"series","type":"nominal","scale":{"domain":["S³ (ours)","BoK","Baseline"],"range":["circle","cross","square"]},"legend":{"title":null,"orient":"top-left","offset":3,"padding":1,"labelFontSize":5.8,"labelFontWeight":"bold","symbolSize":16,"rowPadding":2.6,"labelOffset":4}}}},
  {"transform":[{"filter":"datum.lab=='N=4, b=2'"}],"mark":{"type":"point","filled":true,"opacity":1,"size":50,"color":"#e6711f"},"encoding":{"x":{"field":"nfe","type":"quantitative"},"y":{"field":"acc","type":"quantitative"}}},
  {"transform":[{"filter":"datum.series=='S³ (ours)' && datum.seg=='solid' && datum.lab!='N=4, b=2'"}],"mark":{"type":"text","dy":-5.5,"fontSize":4.6,"color":"#b86b3c"},"encoding":{"x":{"field":"nfe","type":"quantitative"},"y":{"field":"acc","type":"quantitative"},"text":{"field":"lab"}}},
  {"transform":[{"filter":"datum.lab=='N=4, b=2'"}],"mark":{"type":"text","dy":-6.5,"fontSize":4.6,"fontWeight":"bold","color":"#6b3a1f"},"encoding":{"x":{"field":"nfe","type":"quantitative"},"y":{"field":"acc","type":"quantitative"},"text":{"field":"lab"}}},
  {"transform":[{"filter":"datum.series=='BoK' && datum.seg=='solid'"}],"mark":{"type":"text","dy":6,"fontSize":4.6,"color":"#2e9142"},"encoding":{"x":{"field":"nfe","type":"quantitative"},"y":{"field":"acc","type":"quantitative"},"text":{"field":"lab"}}},
  {"transform":[{"filter":"datum.seg=='base'"}],"mark":{"type":"text","align":"left","dx":3,"dy":-2.5,"fontSize":4.5,"color":"#3b82c4"},"encoding":{"x":{"field":"nfe","type":"quantitative"},"y":{"field":"acc","type":"quantitative"},"text":{"field":"lab"}}}
 ]},
{"width":56,"height":110,"mark":"point","data":{"values":[]}},
{"width":147,"height":110,"view":{"stroke":"#000","strokeWidth":0.8},"title":{"text":"(b) GSM8K","orient":"bottom","offset":7},"data":{"name":"acc"},"transform":[{"filter":"datum.c=='b'"}],
 "layer":[
  {"transform":[{"filter":"datum.seg=='base'"}],"mark":{"type":"rule","color":"#74b3e0","strokeDash":[5,3],"strokeWidth":1.1},"encoding":{"y":{"field":"acc","type":"quantitative"}}},
  {"transform":[{"filter":"datum.seg=='dash'"}],"mark":{"type":"line","strokeDash":[3.5,2],"strokeWidth":1.1},"encoding":{"x":{"field":"nfe","type":"quantitative"},"y":{"field":"acc","type":"quantitative"},"detail":{"field":"series"},"color":{"condition":{"test":"datum.series=='BoK'","value":"#2a6b34"},"value":"#a3522a"}}},
  {"transform":[{"filter":"datum.seg=='solid'"}],"mark":{"type":"line","strokeWidth":1.2},"encoding":{"x":{"field":"nfe","type":"quantitative","scale":{"type":"log","domain":[7.2,399],"nice":false},"axis":{"title":"Number of Function Evaluations (NFE)","tickCount":200,"labelOverlap":false,"values":[8,9,10,20,30,40,50,60,70,80,90,100,200,300],"labelExpr":"datum.value == 10 ? '10¹' : datum.value == 100 ? '10²' : ''"}},"y":{"field":"acc","type":"quantitative","scale":{"domain":[67.12,71.74],"nice":false,"zero":false},"axis":{"title":"Accuracy (%)","tickCount":200,"labelOverlap":false,"format":"~g","values":[67.2,67.3,67.4,67.5,67.6,67.7,67.8,67.9,68,68.1,68.2,68.3,68.4,68.5,68.6,68.7,68.8,68.9,69,69.1,69.2,69.3,69.4,69.5,69.6,69.7,69.8,69.9,70,70.1,70.2,70.3,70.4,70.5,70.6,70.7,70.8,70.9,71,71.1,71.2,71.3,71.4,71.5,71.6,71.7],"labelExpr":"datum.value % 0.5 == 0 ? datum.label : ''"}},"detail":{"field":"series"},"color":{"condition":{"test":"datum.series=='BoK'","value":"#2e9142"},"value":"#e6711f"}}},
  {"transform":[{"filter":"datum.seg!='dash'"}],"mark":{"type":"point","filled":true,"opacity":1,"size":14},"encoding":{"x":{"field":"nfe","type":"quantitative"},"y":{"field":"acc","type":"quantitative"},"color":{"field":"series","type":"nominal","scale":{"domain":["S³ (ours)","BoK","Baseline"],"range":["#e6711f","#2e9142","#1f77b4"]},"legend":{"title":null,"orient":"top-left","offset":3,"padding":1,"labelFontSize":5.8,"labelFontWeight":"bold","symbolSize":16,"rowPadding":2.6,"labelOffset":4}},"shape":{"field":"series","type":"nominal","scale":{"domain":["S³ (ours)","BoK","Baseline"],"range":["circle","cross","square"]},"legend":{"title":null,"orient":"top-left","offset":3,"padding":1,"labelFontSize":5.8,"labelFontWeight":"bold","symbolSize":16,"rowPadding":2.6,"labelOffset":4}}}},
  {"transform":[{"filter":"datum.lab=='N=4, b=2'"}],"mark":{"type":"point","filled":true,"opacity":1,"size":50,"color":"#e6711f"},"encoding":{"x":{"field":"nfe","type":"quantitative"},"y":{"field":"acc","type":"quantitative"}}},
  {"transform":[{"filter":"datum.series=='S³ (ours)' && datum.seg=='solid' && datum.lab!='N=4, b=2'"}],"mark":{"type":"text","dy":-5.5,"fontSize":4.6,"color":"#b86b3c"},"encoding":{"x":{"field":"nfe","type":"quantitative"},"y":{"field":"acc","type":"quantitative"},"text":{"field":"lab"}}},
  {"transform":[{"filter":"datum.lab=='N=4, b=2'"}],"mark":{"type":"text","dy":-6.5,"fontSize":4.6,"fontWeight":"bold","color":"#6b3a1f"},"encoding":{"x":{"field":"nfe","type":"quantitative"},"y":{"field":"acc","type":"quantitative"},"text":{"field":"lab"}}},
  {"transform":[{"filter":"datum.series=='BoK' && datum.seg=='solid'"}],"mark":{"type":"text","dy":6,"fontSize":4.6,"color":"#2e9142"},"encoding":{"x":{"field":"nfe","type":"quantitative"},"y":{"field":"acc","type":"quantitative"},"text":{"field":"lab"}}},
  {"transform":[{"filter":"datum.seg=='base'"}],"mark":{"type":"text","align":"left","dx":3,"dy":-2.5,"fontSize":4.5,"color":"#3b82c4"},"encoding":{"x":{"field":"nfe","type":"quantitative"},"y":{"field":"acc","type":"quantitative"},"text":{"field":"lab"}}}
 ]},
{"width":56,"height":110,"mark":"point","data":{"values":[]}},
{"width":147,"height":110,"view":{"stroke":"#000","strokeWidth":0.8},"title":{"text":"(c) ARC-C","orient":"bottom","offset":7},"data":{"name":"acc"},"transform":[{"filter":"datum.c=='c'"}],
 "layer":[
  {"transform":[{"filter":"datum.seg=='base'"}],"mark":{"type":"rule","color":"#74b3e0","strokeDash":[5,3],"strokeWidth":1.1},"encoding":{"y":{"field":"acc","type":"quantitative"}}},
  {"transform":[{"filter":"datum.seg=='dash'"}],"mark":{"type":"line","strokeDash":[3.5,2],"strokeWidth":1.1},"encoding":{"x":{"field":"nfe","type":"quantitative"},"y":{"field":"acc","type":"quantitative"},"detail":{"field":"series"},"color":{"condition":{"test":"datum.series=='BoK'","value":"#2a6b34"},"value":"#a3522a"}}},
  {"transform":[{"filter":"datum.seg=='solid'"}],"mark":{"type":"line","strokeWidth":1.2},"encoding":{"x":{"field":"nfe","type":"quantitative","scale":{"type":"log","domain":[7.2,399],"nice":false},"axis":{"title":"Number of Function Evaluations (NFE)","tickCount":200,"labelOverlap":false,"values":[8,9,10,20,30,40,50,60,70,80,90,100,200,300],"labelExpr":"datum.value == 10 ? '10¹' : datum.value == 100 ? '10²' : ''"}},"y":{"field":"acc","type":"quantitative","scale":{"domain":[74.17,88.9],"nice":false,"zero":false},"axis":{"title":"Accuracy (%)","tickCount":200,"labelOverlap":false,"format":"~g","values":[74.4,74.8,75.2,75.6,76,76.4,76.8,77.2,77.6,78,78.4,78.8,79.2,79.6,80,80.4,80.8,81.2,81.6,82,82.4,82.8,83.2,83.6,84,84.4,84.8,85.2,85.6,86,86.4,86.8,87.2,87.6,88,88.4,88.8],"labelExpr":"datum.value % 2 == 0 ? datum.label : ''"}},"detail":{"field":"series"},"color":{"condition":{"test":"datum.series=='BoK'","value":"#2e9142"},"value":"#e6711f"}}},
  {"transform":[{"filter":"datum.seg!='dash'"}],"mark":{"type":"point","filled":true,"opacity":1,"size":14},"encoding":{"x":{"field":"nfe","type":"quantitative"},"y":{"field":"acc","type":"quantitative"},"color":{"field":"series","type":"nominal","scale":{"domain":["S³ (ours)","BoK","Baseline"],"range":["#e6711f","#2e9142","#1f77b4"]},"legend":{"title":null,"orient":"top-left","offset":3,"padding":1,"labelFontSize":5.8,"labelFontWeight":"bold","symbolSize":16,"rowPadding":2.6,"labelOffset":4}},"shape":{"field":"series","type":"nominal","scale":{"domain":["S³ (ours)","BoK","Baseline"],"range":["circle","cross","square"]},"legend":{"title":null,"orient":"top-left","offset":3,"padding":1,"labelFontSize":5.8,"labelFontWeight":"bold","symbolSize":16,"rowPadding":2.6,"labelOffset":4}}}},
  {"transform":[{"filter":"datum.lab=='N=4, b=2'"}],"mark":{"type":"point","filled":true,"opacity":1,"size":50,"color":"#e6711f"},"encoding":{"x":{"field":"nfe","type":"quantitative"},"y":{"field":"acc","type":"quantitative"}}},
  {"transform":[{"filter":"datum.series=='S³ (ours)' && datum.seg=='solid' && datum.lab!='N=4, b=2'"}],"mark":{"type":"text","dy":-5.5,"fontSize":4.6,"color":"#b86b3c"},"encoding":{"x":{"field":"nfe","type":"quantitative"},"y":{"field":"acc","type":"quantitative"},"text":{"field":"lab"}}},
  {"transform":[{"filter":"datum.lab=='N=4, b=2'"}],"mark":{"type":"text","dy":-6.5,"fontSize":4.6,"fontWeight":"bold","color":"#6b3a1f"},"encoding":{"x":{"field":"nfe","type":"quantitative"},"y":{"field":"acc","type":"quantitative"},"text":{"field":"lab"}}},
  {"transform":[{"filter":"datum.series=='BoK' && datum.seg=='solid' && datum.lab!='K=8'"}],"mark":{"type":"text","dy":6,"fontSize":4.6,"color":"#2e9142"},"encoding":{"x":{"field":"nfe","type":"quantitative"},"y":{"field":"acc","type":"quantitative"},"text":{"field":"lab"}}},
  {"transform":[{"filter":"datum.series=='BoK' && datum.lab=='K=8'"}],"mark":{"type":"text","dy":-5.5,"fontSize":4.6,"color":"#2e9142"},"encoding":{"x":{"field":"nfe","type":"quantitative"},"y":{"field":"acc","type":"quantitative"},"text":{"field":"lab"}}},
  {"transform":[{"filter":"datum.seg=='base'"}],"mark":{"type":"text","align":"left","dx":3,"dy":-2.5,"fontSize":4.5,"color":"#3b82c4"},"encoding":{"x":{"field":"nfe","type":"quantitative"},"y":{"field":"acc","type":"quantitative"},"text":{"field":"lab"}}}
 ]},
{"width":56,"height":110,"mark":"point","data":{"values":[]}},
{"width":147,"height":110,"view":{"stroke":"#000","strokeWidth":0.8},"title":{"text":"(d) TruthfulQA","orient":"bottom","offset":7},"data":{"name":"acc"},"transform":[{"filter":"datum.c=='d'"}],
 "layer":[
  {"transform":[{"filter":"datum.seg=='base'"}],"mark":{"type":"rule","color":"#74b3e0","strokeDash":[5,3],"strokeWidth":1.1},"encoding":{"y":{"field":"acc","type":"quantitative"}}},
  {"transform":[{"filter":"datum.seg=='dash'"}],"mark":{"type":"line","strokeDash":[3.5,2],"strokeWidth":1.1},"encoding":{"x":{"field":"nfe","type":"quantitative"},"y":{"field":"acc","type":"quantitative"},"detail":{"field":"series"},"color":{"condition":{"test":"datum.series=='BoK'","value":"#2a6b34"},"value":"#a3522a"}}},
  {"transform":[{"filter":"datum.seg=='solid'"}],"mark":{"type":"line","strokeWidth":1.2},"encoding":{"x":{"field":"nfe","type":"quantitative","scale":{"type":"log","domain":[7.2,399],"nice":false},"axis":{"title":"Number of Function Evaluations (NFE)","tickCount":200,"labelOverlap":false,"values":[8,9,10,20,30,40,50,60,70,80,90,100,200,300],"labelExpr":"datum.value == 10 ? '10¹' : datum.value == 100 ? '10²' : ''"}},"y":{"field":"acc","type":"quantitative","scale":{"domain":[45.49,51.07],"nice":false,"zero":false},"axis":{"title":"Accuracy (%)","tickCount":200,"labelOverlap":false,"format":"~g","values":[45.6,45.8,46,46.2,46.4,46.6,46.8,47,47.2,47.4,47.6,47.8,48,48.2,48.4,48.6,48.8,49,49.2,49.4,49.6,49.8,50,50.2,50.4,50.6,50.8,51],"labelExpr":"datum.value % 1 == 0 ? datum.label : ''"}},"detail":{"field":"series"},"color":{"condition":{"test":"datum.series=='BoK'","value":"#2e9142"},"value":"#e6711f"}}},
  {"transform":[{"filter":"datum.seg!='dash'"}],"mark":{"type":"point","filled":true,"opacity":1,"size":14},"encoding":{"x":{"field":"nfe","type":"quantitative"},"y":{"field":"acc","type":"quantitative"},"color":{"field":"series","type":"nominal","scale":{"domain":["S³ (ours)","BoK","Baseline"],"range":["#e6711f","#2e9142","#1f77b4"]},"legend":{"title":null,"orient":"top-left","offset":3,"padding":1,"labelFontSize":5.8,"labelFontWeight":"bold","symbolSize":16,"rowPadding":2.6,"labelOffset":4}},"shape":{"field":"series","type":"nominal","scale":{"domain":["S³ (ours)","BoK","Baseline"],"range":["circle","cross","square"]},"legend":{"title":null,"orient":"top-left","offset":3,"padding":1,"labelFontSize":5.8,"labelFontWeight":"bold","symbolSize":16,"rowPadding":2.6,"labelOffset":4}}}},
  {"transform":[{"filter":"datum.lab=='N=4, b=2'"}],"mark":{"type":"point","filled":true,"opacity":1,"size":50,"color":"#e6711f"},"encoding":{"x":{"field":"nfe","type":"quantitative"},"y":{"field":"acc","type":"quantitative"}}},
  {"transform":[{"filter":"datum.series=='S³ (ours)' && datum.seg=='solid' && datum.lab!='N=4, b=2'"}],"mark":{"type":"text","dy":-5.5,"fontSize":4.6,"color":"#b86b3c"},"encoding":{"x":{"field":"nfe","type":"quantitative"},"y":{"field":"acc","type":"quantitative"},"text":{"field":"lab"}}},
  {"transform":[{"filter":"datum.lab=='N=4, b=2'"}],"mark":{"type":"text","dy":-6.5,"fontSize":4.6,"fontWeight":"bold","color":"#6b3a1f"},"encoding":{"x":{"field":"nfe","type":"quantitative"},"y":{"field":"acc","type":"quantitative"},"text":{"field":"lab"}}},
  {"transform":[{"filter":"datum.series=='BoK' && datum.seg=='solid'"}],"mark":{"type":"text","dy":6,"fontSize":4.6,"color":"#2e9142"},"encoding":{"x":{"field":"nfe","type":"quantitative"},"y":{"field":"acc","type":"quantitative"},"text":{"field":"lab"}}},
  {"transform":[{"filter":"datum.seg=='base'"}],"mark":{"type":"text","align":"left","dx":3,"dy":-2.5,"fontSize":4.5,"color":"#3b82c4"},"encoding":{"x":{"field":"nfe","type":"quantitative"},"y":{"field":"acc","type":"quantitative"},"text":{"field":"lab"}}}
 ]}
],"spacing":0,"bounds":"flush","resolve":{"scale":{"color":"independent","shape":"independent"},"legend":{"color":"independent","shape":"independent"}}},
{"width":1,"height":4,"mark":"point","data":{"values":[]}},
{"hconcat":[
{"width":34,"height":114,"mark":"point","data":{"values":[]}},
{"width":147,"height":114,"view":{"stroke":"#000","strokeWidth":0.8},"title":{"text":"(e) MATH-500","orient":"bottom","offset":17},"data":{"name":"conf"},"transform":[{"filter":"datum.c=='e'"}],
 "layer":[
  {"mark":{"type":"area","opacity":0.22},"encoding":{"x":{"field":"p","type":"quantitative"},"y":{"field":"lo","type":"quantitative"},"y2":{"field":"hi"},"detail":{"field":"s"},"color":{"condition":[{"test":"datum.s=='Baseline'","value":"#2b7bba"},{"test":"datum.s=='BoK'","value":"#34a548"}],"value":"#ee7420"}}},
  {"mark":{"type":"rule","color":"#9a9a9a","strokeDash":[4,3],"strokeWidth":0.8},"encoding":{"y":{"datum":1,"type":"quantitative"}}},
  {"mark":{"type":"line","strokeWidth":1.1},"encoding":{"x":{"field":"p","type":"quantitative","scale":{"domain":[0,1],"nice":false},"axis":{"title":"Denoising Progress (fraction of steps)","tickCount":200,"labelOverlap":false,"format":".0%","values":[0,0.05,0.1,0.15,0.2,0.25,0.3,0.35,0.4,0.45,0.5,0.55,0.6,0.65,0.7,0.75,0.8,0.85,0.9,0.95,1],"labelExpr":"abs(datum.value*4 - round(datum.value*4)) < 0.001 ? datum.label : ''"}},"y":{"field":"m","type":"quantitative","scale":{"domain":[0,1.08],"nice":false},"axis":{"title":"Top-1 Token Confidence","tickCount":200,"labelOverlap":false,"format":"~g","values":[0,0.05,0.1,0.15,0.2,0.25,0.3,0.35,0.4,0.45,0.5,0.55,0.6,0.65,0.7,0.75,0.8,0.85,0.9,0.95,1,1.05],"labelExpr":"abs(datum.value*5 - round(datum.value*5)) < 0.001 ? datum.label : ''"}},"color":{"field":"s","type":"nominal","scale":{"domain":["Baseline","S³ (ours)","BoK"],"range":["#2b7bba","#ee7420","#34a548"]},"legend":{"title":null,"orient":"top-left","offset":4,"padding":1,"labelFontSize":5.5,"symbolType":"stroke","symbolSize":110,"symbolStrokeWidth":1.2,"rowPadding":3,"labelOffset":5}},"strokeDash":{"field":"s","type":"nominal","scale":{"domain":["Baseline","S³ (ours)","BoK"],"range":[[1,0],[1,0],[3,2]]},"legend":{"title":null,"orient":"top-left","offset":4,"padding":1,"labelFontSize":5.5,"symbolType":"stroke","symbolSize":110,"symbolStrokeWidth":1.2,"rowPadding":3,"labelOffset":5}}}}
 ]},
{"width":56,"height":114,"mark":"point","data":{"values":[]}},
{"width":147,"height":114,"view":{"stroke":"#000","strokeWidth":0.8},"title":{"text":"(f) GSM8K","orient":"bottom","offset":17},"data":{"name":"conf"},"transform":[{"filter":"datum.c=='f'"}],
 "layer":[
  {"mark":{"type":"area","opacity":0.22},"encoding":{"x":{"field":"p","type":"quantitative"},"y":{"field":"lo","type":"quantitative"},"y2":{"field":"hi"},"detail":{"field":"s"},"color":{"condition":[{"test":"datum.s=='Baseline'","value":"#2b7bba"},{"test":"datum.s=='BoK'","value":"#34a548"}],"value":"#ee7420"}}},
  {"mark":{"type":"rule","color":"#9a9a9a","strokeDash":[4,3],"strokeWidth":0.8},"encoding":{"y":{"datum":1,"type":"quantitative"}}},
  {"mark":{"type":"line","strokeWidth":1.1},"encoding":{"x":{"field":"p","type":"quantitative","scale":{"domain":[0,1],"nice":false},"axis":{"title":"Denoising Progress (fraction of steps)","tickCount":200,"labelOverlap":false,"format":".0%","values":[0,0.05,0.1,0.15,0.2,0.25,0.3,0.35,0.4,0.45,0.5,0.55,0.6,0.65,0.7,0.75,0.8,0.85,0.9,0.95,1],"labelExpr":"abs(datum.value*4 - round(datum.value*4)) < 0.001 ? datum.label : ''"}},"y":{"field":"m","type":"quantitative","scale":{"domain":[0,1.08],"nice":false},"axis":{"title":"Top-1 Token Confidence","tickCount":200,"labelOverlap":false,"format":"~g","values":[0,0.05,0.1,0.15,0.2,0.25,0.3,0.35,0.4,0.45,0.5,0.55,0.6,0.65,0.7,0.75,0.8,0.85,0.9,0.95,1,1.05],"labelExpr":"abs(datum.value*5 - round(datum.value*5)) < 0.001 ? datum.label : ''"}},"color":{"field":"s","type":"nominal","scale":{"domain":["Baseline","S³ (ours)","BoK"],"range":["#2b7bba","#ee7420","#34a548"]},"legend":{"title":null,"orient":"top-left","offset":4,"padding":1,"labelFontSize":5.5,"symbolType":"stroke","symbolSize":110,"symbolStrokeWidth":1.2,"rowPadding":3,"labelOffset":5}},"strokeDash":{"field":"s","type":"nominal","scale":{"domain":["Baseline","S³ (ours)","BoK"],"range":[[1,0],[1,0],[3,2]]},"legend":{"title":null,"orient":"top-left","offset":4,"padding":1,"labelFontSize":5.5,"symbolType":"stroke","symbolSize":110,"symbolStrokeWidth":1.2,"rowPadding":3,"labelOffset":5}}}}
 ]},
{"width":56,"height":114,"mark":"point","data":{"values":[]}},
{"width":147,"height":114,"view":{"stroke":"#000","strokeWidth":0.8},"title":{"text":"(g) ARC-C","orient":"bottom","offset":17},"data":{"name":"conf"},"transform":[{"filter":"datum.c=='g'"}],
 "layer":[
  {"mark":{"type":"area","opacity":0.22},"encoding":{"x":{"field":"p","type":"quantitative"},"y":{"field":"lo","type":"quantitative"},"y2":{"field":"hi"},"detail":{"field":"s"},"color":{"condition":[{"test":"datum.s=='Baseline'","value":"#2b7bba"},{"test":"datum.s=='BoK'","value":"#34a548"}],"value":"#ee7420"}}},
  {"mark":{"type":"rule","color":"#9a9a9a","strokeDash":[4,3],"strokeWidth":0.8},"encoding":{"y":{"datum":1,"type":"quantitative"}}},
  {"mark":{"type":"line","strokeWidth":1.1},"encoding":{"x":{"field":"p","type":"quantitative","scale":{"domain":[0,1],"nice":false},"axis":{"title":"Denoising Progress (fraction of steps)","tickCount":200,"labelOverlap":false,"format":".0%","values":[0,0.05,0.1,0.15,0.2,0.25,0.3,0.35,0.4,0.45,0.5,0.55,0.6,0.65,0.7,0.75,0.8,0.85,0.9,0.95,1],"labelExpr":"abs(datum.value*4 - round(datum.value*4)) < 0.001 ? datum.label : ''"}},"y":{"field":"m","type":"quantitative","scale":{"domain":[0,1.08],"nice":false},"axis":{"title":"Top-1 Token Confidence","tickCount":200,"labelOverlap":false,"format":"~g","values":[0,0.05,0.1,0.15,0.2,0.25,0.3,0.35,0.4,0.45,0.5,0.55,0.6,0.65,0.7,0.75,0.8,0.85,0.9,0.95,1,1.05],"labelExpr":"abs(datum.value*5 - round(datum.value*5)) < 0.001 ? datum.label : ''"}},"color":{"field":"s","type":"nominal","scale":{"domain":["Baseline","S³ (ours)","BoK"],"range":["#2b7bba","#ee7420","#34a548"]},"legend":{"title":null,"orient":"top-left","offset":4,"padding":1,"labelFontSize":5.5,"symbolType":"stroke","symbolSize":110,"symbolStrokeWidth":1.2,"rowPadding":3,"labelOffset":5}},"strokeDash":{"field":"s","type":"nominal","scale":{"domain":["Baseline","S³ (ours)","BoK"],"range":[[1,0],[1,0],[3,2]]},"legend":{"title":null,"orient":"top-left","offset":4,"padding":1,"labelFontSize":5.5,"symbolType":"stroke","symbolSize":110,"symbolStrokeWidth":1.2,"rowPadding":3,"labelOffset":5}}}}
 ]},
{"width":56,"height":114,"mark":"point","data":{"values":[]}},
{"width":147,"height":114,"view":{"stroke":"#000","strokeWidth":0.8},"title":{"text":"(h) TruthfulQA","orient":"bottom","offset":17},"data":{"name":"conf"},"transform":[{"filter":"datum.c=='h'"}],
 "layer":[
  {"mark":{"type":"area","opacity":0.22},"encoding":{"x":{"field":"p","type":"quantitative"},"y":{"field":"lo","type":"quantitative"},"y2":{"field":"hi"},"detail":{"field":"s"},"color":{"condition":[{"test":"datum.s=='Baseline'","value":"#2b7bba"},{"test":"datum.s=='BoK'","value":"#34a548"}],"value":"#ee7420"}}},
  {"mark":{"type":"rule","color":"#9a9a9a","strokeDash":[4,3],"strokeWidth":0.8},"encoding":{"y":{"datum":1,"type":"quantitative"}}},
  {"mark":{"type":"line","strokeWidth":1.1},"encoding":{"x":{"field":"p","type":"quantitative","scale":{"domain":[0,1],"nice":false},"axis":{"title":"Denoising Progress (fraction of steps)","tickCount":200,"labelOverlap":false,"format":".0%","values":[0,0.05,0.1,0.15,0.2,0.25,0.3,0.35,0.4,0.45,0.5,0.55,0.6,0.65,0.7,0.75,0.8,0.85,0.9,0.95,1],"labelExpr":"abs(datum.value*4 - round(datum.value*4)) < 0.001 ? datum.label : ''"}},"y":{"field":"m","type":"quantitative","scale":{"domain":[0,1.08],"nice":false},"axis":{"title":"Top-1 Token Confidence","tickCount":200,"labelOverlap":false,"format":"~g","values":[0,0.05,0.1,0.15,0.2,0.25,0.3,0.35,0.4,0.45,0.5,0.55,0.6,0.65,0.7,0.75,0.8,0.85,0.9,0.95,1,1.05],"labelExpr":"abs(datum.value*5 - round(datum.value*5)) < 0.001 ? datum.label : ''"}},"color":{"field":"s","type":"nominal","scale":{"domain":["Baseline","S³ (ours)","BoK"],"range":["#2b7bba","#ee7420","#34a548"]},"legend":{"title":null,"orient":"top-left","offset":4,"padding":1,"labelFontSize":5.5,"symbolType":"stroke","symbolSize":110,"symbolStrokeWidth":1.2,"rowPadding":3,"labelOffset":5}},"strokeDash":{"field":"s","type":"nominal","scale":{"domain":["Baseline","S³ (ours)","BoK"],"range":[[1,0],[1,0],[3,2]]},"legend":{"title":null,"orient":"top-left","offset":4,"padding":1,"labelFontSize":5.5,"symbolType":"stroke","symbolSize":110,"symbolStrokeWidth":1.2,"rowPadding":3,"labelOffset":5}}}}
 ]}
],"spacing":0,"bounds":"flush","resolve":{"scale":{"color":"independent","strokeDash":"independent"},"legend":{"color":"independent","strokeDash":"independent"}}}
],
"config":{
 "view":{"stroke":null},
 "font":"Liberation Serif",
 "text":{"font":"Liberation Serif","color":"#000"},
 "axis":{"labelFont":"Liberation Serif","titleFont":"Liberation Serif","labelFontSize":6.3,"titleFontSize":6.6,"titleFontWeight":"normal","labelColor":"#000","titleColor":"#000","tickColor":"#000","tickSize":-2.5,"tickWidth":0.6,"labelPadding":5,"titlePadding":2,"domain":false,"grid":false,"labelOverlap":false,"labelFlush":false},
 "axisX":{"labelPadding":8},
 "axisY":{"labelPadding":6.5},
 "legend":{"labelFont":"Liberation Serif","labelColor":"#000"},
 "title":{"font":"Liberation Serif","fontSize":19,"fontWeight":"normal","color":"#000"}
}
}
